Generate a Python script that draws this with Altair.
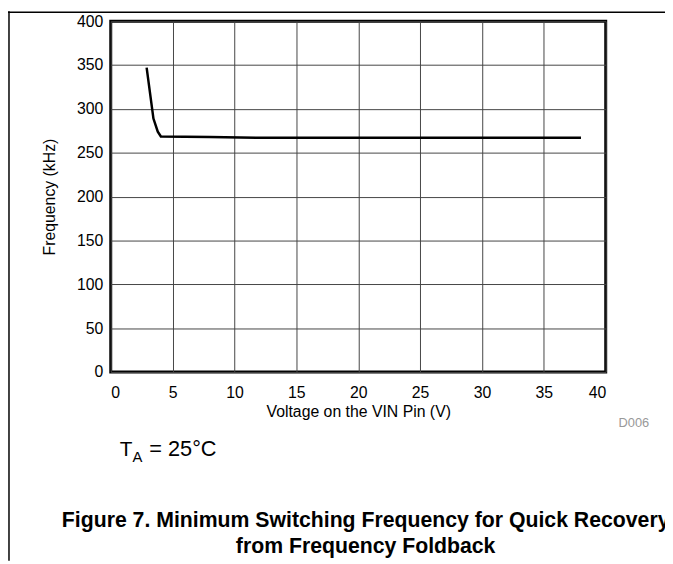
import altair as alt
import pandas as pd

# Data
voltage = [2.9, 3.45, 3.8, 4.05, 8, 12, 38]
frequency = [347, 289, 274, 268.5, 268, 267, 267]

x_ticks = [0, 5, 10, 15, 20, 25, 30, 35, 40]
y_ticks = [0, 50, 100, 150, 200, 250, 300, 350, 400]

x_title = "Voltage on the VIN Pin (V)"
y_title = "Frequency (kHz)"
caption_1 = "Figure 7. Minimum Switching Frequency for Quick Recovery"
caption_2 = "from Frequency Foldback"
code_label = "D006"

FONT = "Liberation Sans, Arial, Helvetica, sans-serif"

df = pd.DataFrame({"v": voltage, "f": frequency})

line = alt.Chart(df).mark_line(color="black", strokeWidth=2.5).encode(
    x=alt.X(
        "v:Q",
        scale=alt.Scale(domain=[0, 40], nice=False, zero=False),
        axis=alt.Axis(values=x_ticks, title=x_title, labelPadding=13, titlePadding=3),
    ),
    y=alt.Y(
        "f:Q",
        scale=alt.Scale(domain=[0, 400], nice=False),
        axis=alt.Axis(values=y_ticks, title=y_title, labelPadding=8, titlePadding=19),
    ),
)


def text_layer(txt, x, y, size, weight="normal", color="black", align="left"):
    return alt.Chart(pd.DataFrame({"t": [txt]})).mark_text(
        align=align, baseline="alphabetic", fontSize=size, fontWeight=weight,
        color=color, font=FONT,
    ).encode(x=alt.value(x), y=alt.value(y), text="t:N")


one = pd.DataFrame({"a": [0]})
frame_left = alt.Chart(one).mark_rule(color="black", strokeWidth=1.5).encode(
    x=alt.value(-103), y=alt.value(-10), y2=alt.value(546)
)
frame_top = alt.Chart(one).mark_rule(color="black", strokeWidth=1.5).encode(
    y=alt.value(-9), x=alt.value(-104), x2=alt.value(561)
)

chart = alt.layer(
    line,
    text_layer("T", 9, 440, 21),
    text_layer("A", 22, 446, 15),
    text_layer("= 25°C", 39, 440, 22),
    text_layer(code_label, 514, 411, 13, color="#999999"),
    text_layer(caption_1, 258, 512, 21.5, weight="bold", align="center"),
    text_layer(caption_2, 258, 538, 21.5, weight="bold", align="center"),
    frame_left,
    frame_top,
).properties(
    width=501,
    height=355,
    autosize=alt.AutoSizeParams(type="none"),
    padding={"left": 104, "top": 10, "right": 60, "bottom": 191},
).configure_view(
    stroke="black", strokeWidth=3
).configure_axis(
    domain=False,
    ticks=False,
    tickSize=0,
    grid=True,
    gridColor="#444444",
    gridWidth=1,
    gridOpacity=1,
    labelFont=FONT,
    labelFontSize=16,
    labelColor="black",
    titleFont=FONT,
    titleFontSize=16,
    titleFontWeight="normal",
    titleColor="black",
)

chart.save("out.html", embed_options={"renderer": "svg", "actions": False})
